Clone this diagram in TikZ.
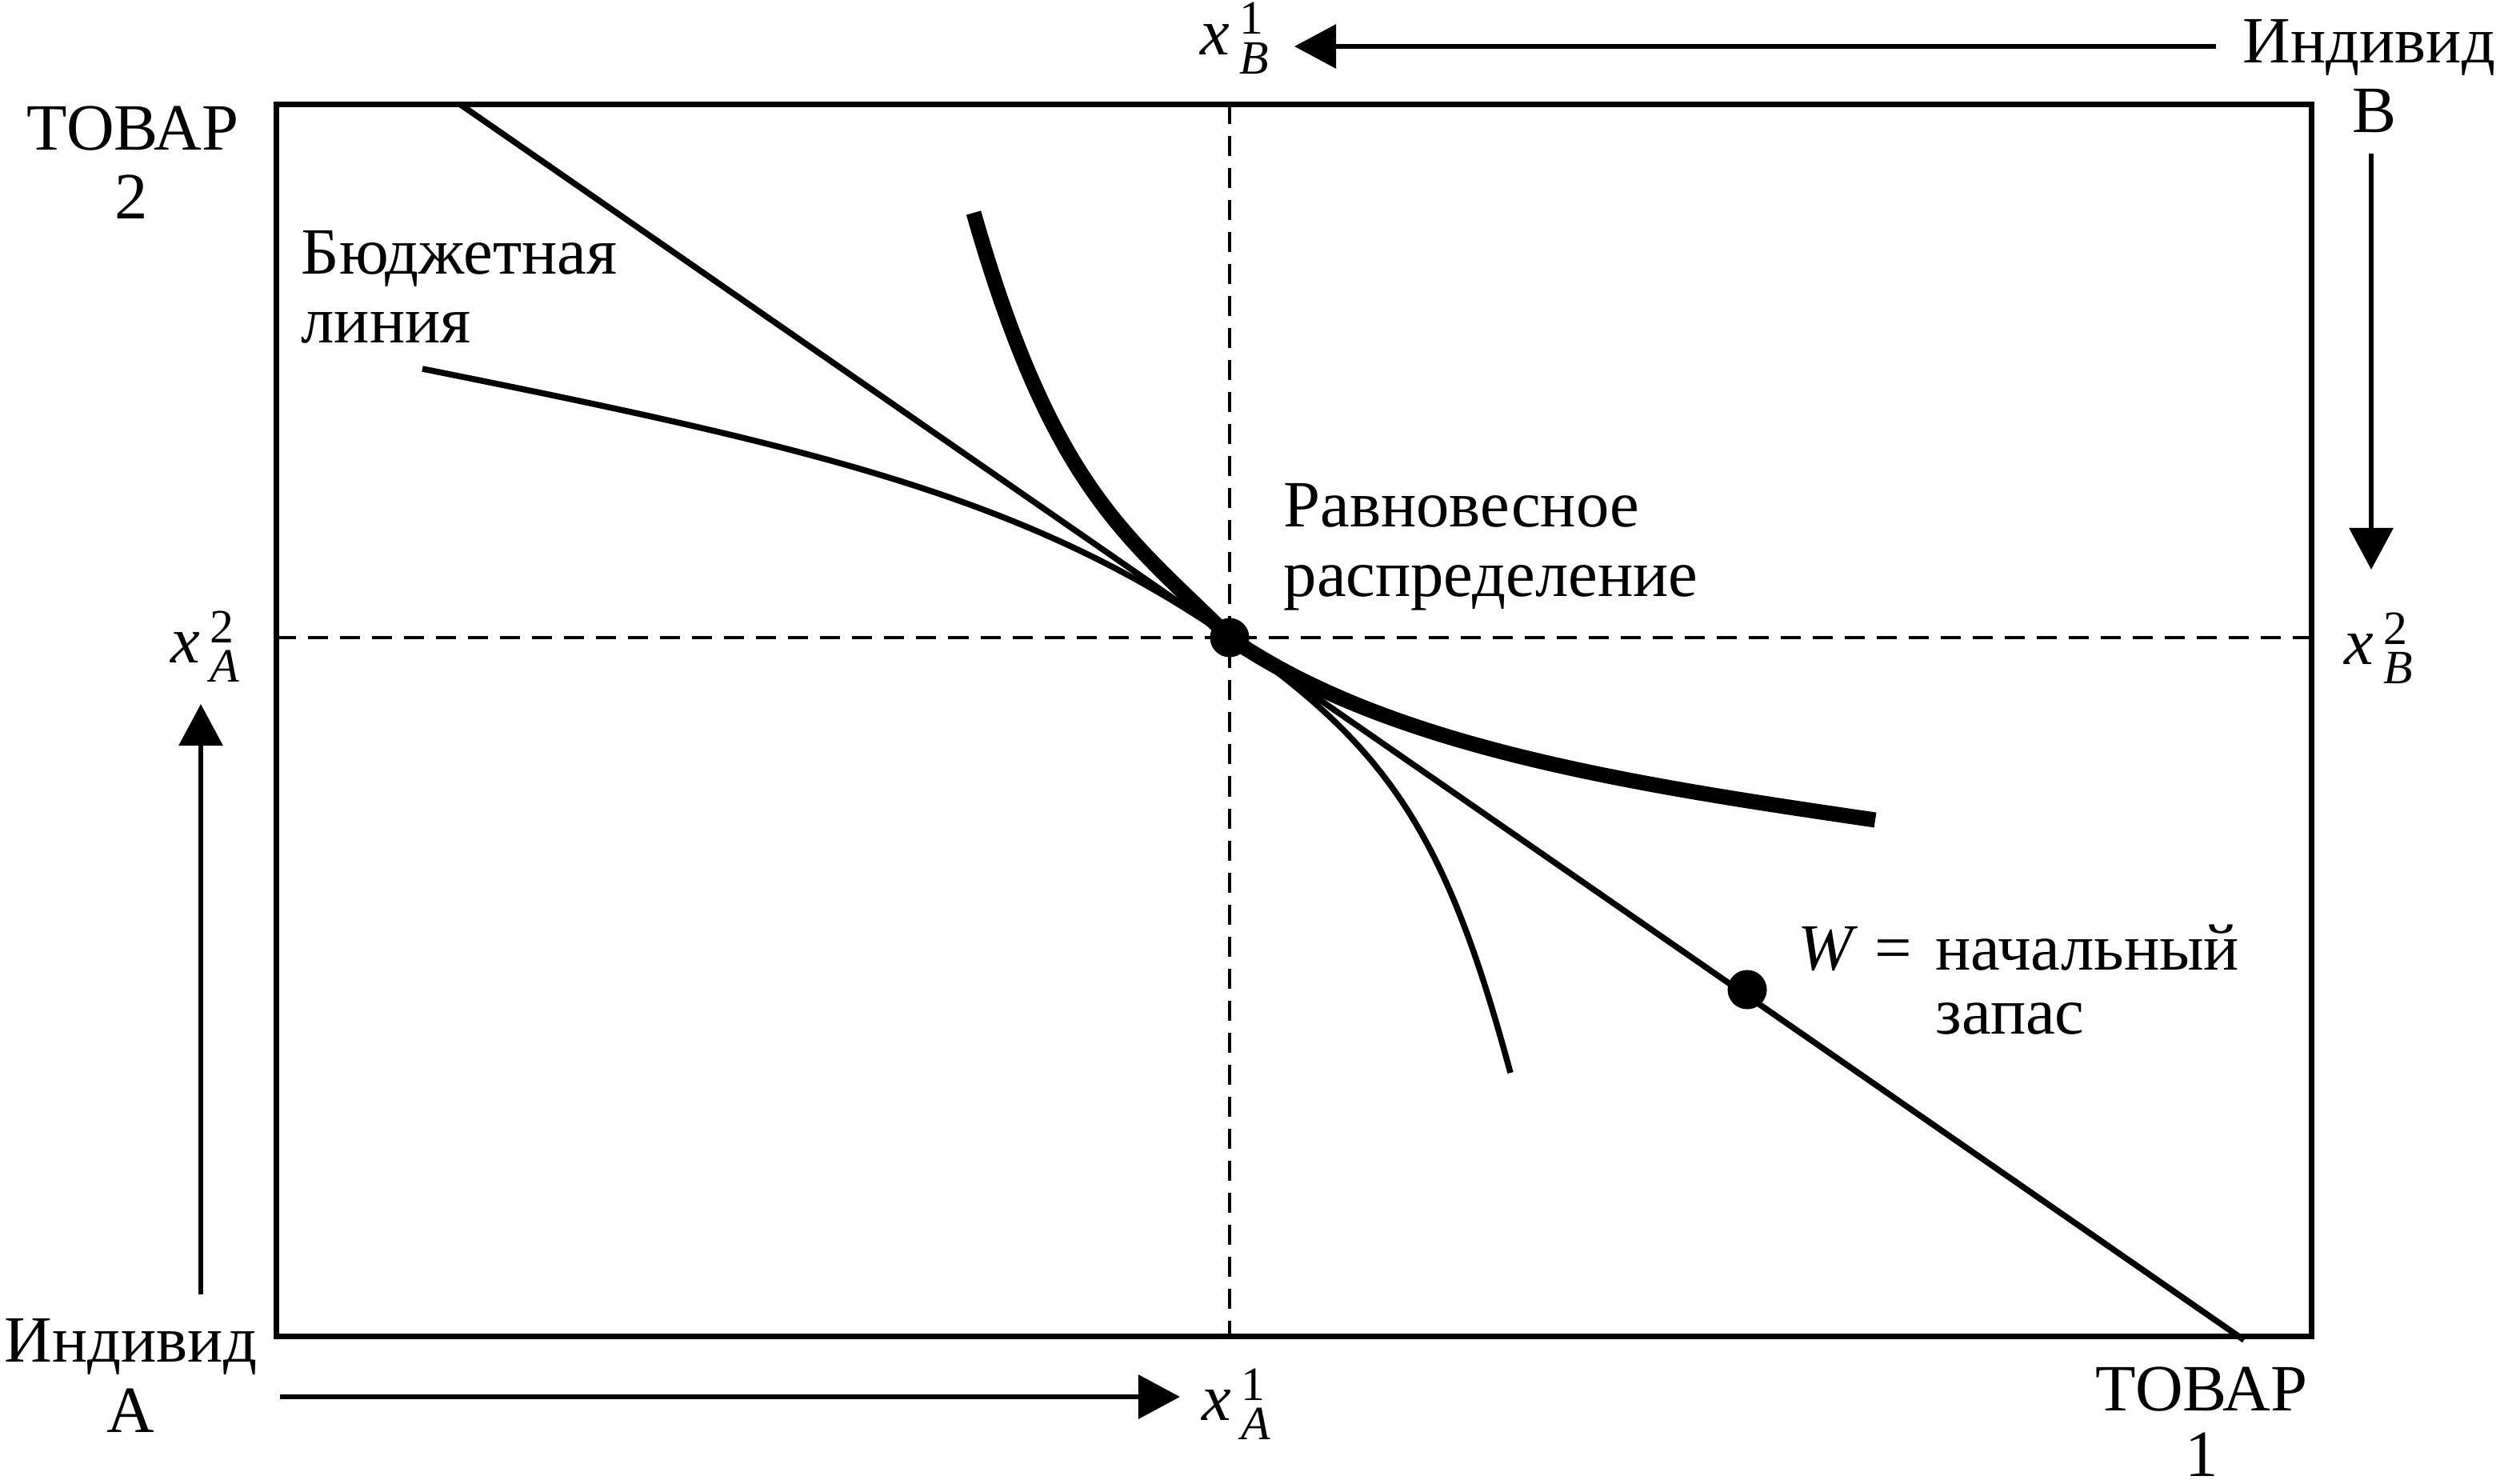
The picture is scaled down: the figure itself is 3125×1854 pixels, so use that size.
\documentclass[tikz,border=0pt]{standalone}
\usepackage{fontspec}
\setmainfont{Liberation Serif}
\usetikzlibrary{arrows.meta}
\newcommand{\xlab}[2]{\textit{x}\hspace{0.12cm}\rlap{\raisebox{0.25cm}{\fontsize{17}{17}\selectfont #1}}\raisebox{-0.24cm}{\fontsize{17}{17}\selectfont\textit{#2}}}
\begin{document}
\begin{tikzpicture}[x=0.01cm,y=-0.01cm,
  lbl/.style={inner sep=0pt, font=\fontsize{23.5}{28}\selectfont},
  boxline/.style={line width=0.07cm},
  budget/.style={line width=0.075cm},
  thincurve/.style={line width=0.075cm},
  thickcurve/.style={line width=0.19cm},
  guide/.style={line width=0.045cm, dash pattern=on 0.25cm off 0.15cm},
  axarrow/.style={line width=0.065cm, -{Triangle[length=0.52cm,width=0.54cm]}},
  dot/.style={circle, fill=black, inner sep=0pt, minimum size=0.49cm}]
\useasboundingbox (0,0) rectangle (3125,1854);

% box
\coordinate (bl) at (345,1670);
\coordinate (tr) at (2889,130);
\draw[boxline] (bl) rectangle (tr);

% guides
\coordinate (eqpos) at (1537,797);
\coordinate (gl) at (345,797);
\coordinate (gr) at (2889,797);
\coordinate (gt) at (1537,130);
\coordinate (gb) at (1537,1670);
\draw[guide] (gl) -- (gr);
\draw[guide] (gt) -- (gb);

% budget line
\coordinate (bud1) at (576,131);
\coordinate (bud2) at (2805,1675);
\draw[budget] (bud1) -- (bud2);

% A's indifference curve (thick)
\coordinate (ta) at (1217,266);
\coordinate (tb) at (2344,1025);
\draw[thickcurve] (ta) .. controls (1317,616) and (1412,672) .. (eqpos)
                       .. controls (1737,935) and (2044,981) .. (tb);

% B's indifference curve (thin)
\coordinate (na) at (528,461);
\coordinate (nb) at (1888,1341);
\draw[thincurve] (na) .. controls (1028,561) and (1287,624) .. (eqpos)
                      .. controls (1737,935) and (1808,1045) .. (nb);

% points
\node[dot] (eq) at (eqpos) {};
\node[dot] (w) at (2184,1237) {};

% labels
\node[lbl, anchor=base] (tov2a) at (166,187) {ТОВАР};
\node[lbl, anchor=base] (tov2b) at (164,273) {2};
\node[lbl, anchor=base] (tov1a) at (2752,1763) {ТОВАР};
\node[lbl, anchor=base] (tov1b) at (2752,1845) {1};
\node[lbl, anchor=base west] (indB) at (2803,78) {Индивид};
\node[lbl, anchor=base] (indBb) at (2968,165) {B};
\node[lbl, anchor=base west] (indA) at (5,1702) {Индивид};
\node[lbl, anchor=base] (indAb) at (163,1790) {A};
\node[lbl, anchor=base west] (bud1l) at (376,342) {Бюджетная};
\node[lbl, anchor=base west] (bud2l) at (376,428) {линия};
\node[lbl, anchor=base west] (eq1l) at (1604,658) {Равновесное};
\node[lbl, anchor=base west] (eq2l) at (1604,745) {распределение};
\node[lbl, anchor=base west] (w0l) at (2247,1212) {\textit{W} =};
\node[lbl, anchor=base west] (w1l) at (2419,1212) {начальный};
\node[lbl, anchor=base west] (w2l) at (2419,1292) {запас};

\node[lbl, anchor=base west] (xB1) at (1500,68) {\xlab{1}{B}};
\node[lbl, anchor=base west] (xA1) at (1502,1775) {\xlab{1}{A}};
\node[lbl, anchor=base west] (xA2) at (213,828) {\xlab{2}{A}};
\node[lbl, anchor=base west] (xB2) at (2930,830) {\xlab{2}{B}};

% axis arrows
\coordinate (aA1s) at (350,1746);
\coordinate (aA1e) at (1475,1746);
\coordinate (aA2s) at (251,1618);
\coordinate (aA2e) at (251,880);
\coordinate (aB1s) at (2770,58);
\coordinate (aB1e) at (1618,58);
\coordinate (aB2s) at (2964,192);
\coordinate (aB2e) at (2964,712);
\draw[axarrow] (aA1s) -- (aA1e);
\draw[axarrow] (aA2s) -- (aA2e);
\draw[axarrow] (aB1s) -- (aB1e);
\draw[axarrow] (aB2s) -- (aB2e);
\end{tikzpicture}
\end{document}
